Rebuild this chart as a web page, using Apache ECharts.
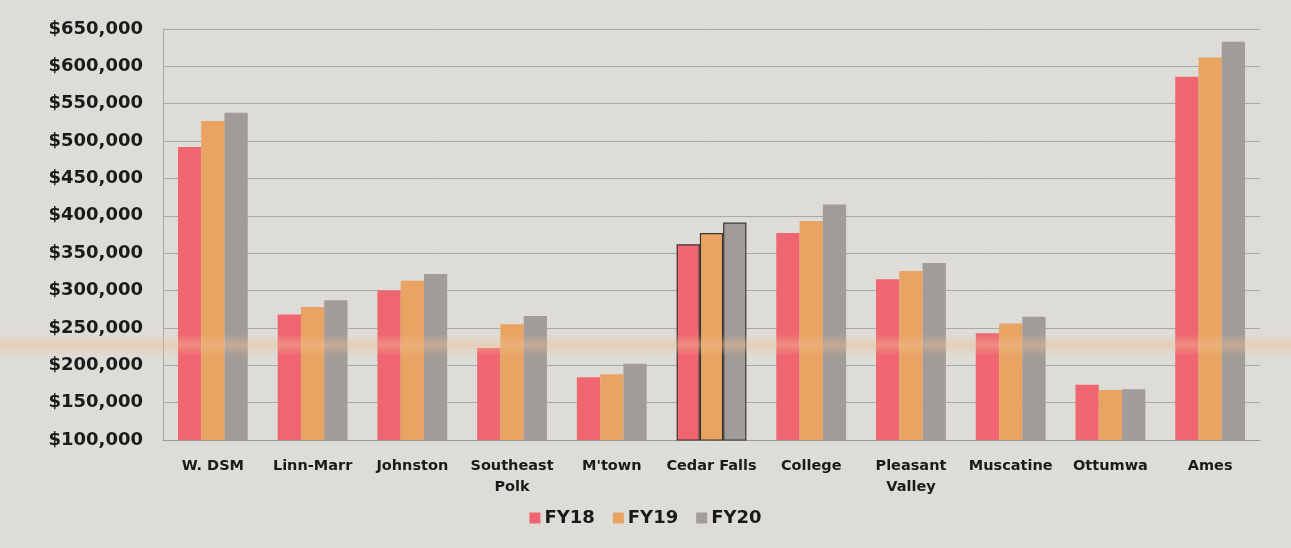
<!DOCTYPE html>
<html>
<head>
<meta charset="utf-8">
<script src="https://cdn.jsdelivr.net/npm/echarts@6/dist/echarts.min.js"></script>
<style>
  html, body { margin: 0; padding: 0; background: #dddcd6; }
  #chart { width: 1291px; height: 548px; }
</style>
</head>
<body>
<div id="chart"></div>
<script>
// District categories along the x axis
const districts = ['W. DSM', 'Linn-Marr', 'Johnston', 'Southeast\nPolk', "M'town", 'Cedar Falls',
  'College', 'Pleasant\nValley', 'Muscatine', 'Ottumwa', 'Ames'];

// Amounts per fiscal year
const fy18 = [492000, 268000, 300000, 223000, 184000, 362000, 377000, 315000, 243000, 174000, 586000];
const fy19 = [527000, 278000, 313000, 255000, 188000, 377000, 393000, 326000, 256000, 167000, 612000];
const fy20 = [538000, 287000, 322000, 266000, 202000, 391000, 415000, 337000, 265000, 168000, 633000];

const seriesNames = ['FY18', 'FY19', 'FY20'];
const seriesColors = ['#ef6670', '#e9a464', '#a29c98'];

// Y axis range and step
const yMin = 100000;
const yMax = 650000;
const yStep = 50000;

// District whose bars are drawn with a dark outline
const outlined = 'Cedar Falls';

const fontFam = '"DejaVu Sans", sans-serif';

function money(v) {
  return '$' + v.toLocaleString('en-US');
}

function buildData(values) {
  return values.map((v, i) => districts[i] === outlined
    ? { value: v, itemStyle: { borderColor: '#3a3634', borderWidth: 1.2 } }
    : v);
}

const chart = echarts.init(document.getElementById('chart'), null, { renderer: 'canvas' });

chart.setOption({
  backgroundColor: '#dddcd6',
  animation: false,
  grid: { left: 163, right: 31, top: 29, bottom: 108, containLabel: false },
  legend: {
    data: seriesNames,
    bottom: 16,
    left: 'center',
    itemWidth: 11,
    itemHeight: 11,
    itemGap: 18,
    icon: 'rect',
    textStyle: { fontFamily: fontFam, fontWeight: 'bold', fontSize: 18, color: '#1a1a1a', padding: [0, 0, 0, -1] }
  },
  xAxis: {
    type: 'category',
    data: districts,
    axisLine: { lineStyle: { color: '#9b9a95', width: 1 } },
    axisTick: { show: false },
    axisLabel: {
      fontFamily: fontFam, fontWeight: 'bold', fontSize: 14.5, color: '#1a1a1a',
      margin: 16, lineHeight: 21, interval: 0
    }
  },
  yAxis: {
    type: 'value',
    min: yMin,
    max: yMax,
    interval: yStep,
    axisLine: { show: true, lineStyle: { color: '#a9a8a3', width: 1 } },
    axisTick: { show: false },
    splitLine: { lineStyle: { color: '#a9a8a3', width: 1 } },
    axisLabel: {
      formatter: money,
      fontFamily: fontFam, fontWeight: 'bold', fontSize: 18, color: '#1a1a1a', margin: 20
    }
  },
  series: [fy18, fy19, fy20].map((vals, k) => ({
    name: seriesNames[k],
    type: 'bar',
    data: buildData(vals),
    itemStyle: { color: seriesColors[k] },
    barGap: '0%',
    barCategoryGap: '30%'
  })),
  // faint warm streak across the sheet
  graphic: [{
    type: 'rect',
    z: 100,
    silent: true,
    shape: { x: 0, y: 334, width: 1291, height: 22 },
    style: {
      fill: {
        type: 'linear', x: 0, y: 0, x2: 0, y2: 1,
        colorStops: [
          { offset: 0, color: 'rgba(240,190,150,0)' },
          { offset: 0.5, color: 'rgba(240,190,150,0.45)' },
          { offset: 1, color: 'rgba(240,190,150,0)' }
        ]
      }
    }
  }]
});
</script>
</body>
</html>
